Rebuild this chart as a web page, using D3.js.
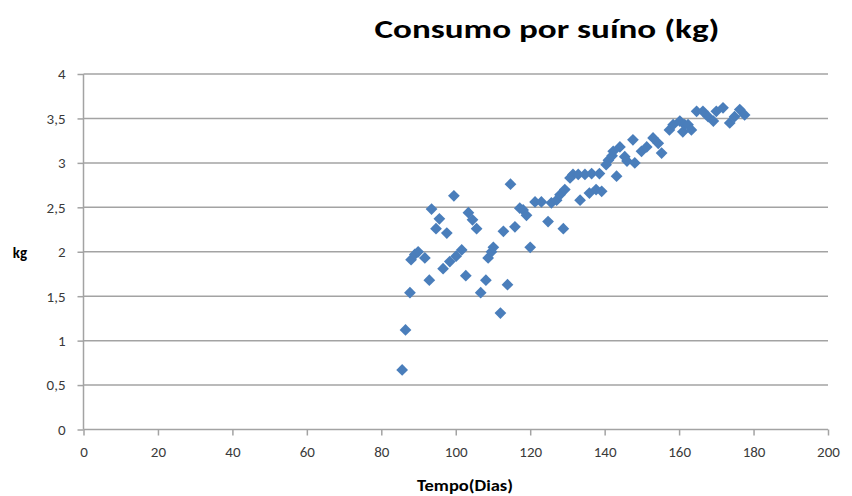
<!DOCTYPE html>
<html>
<head>
<meta charset="utf-8">
<script src="https://cdn.jsdelivr.net/npm/d3@7"></script>
<style>
  html, body { margin: 0; padding: 0; background: #fff; }
  svg { display: block; }
</style>
</head>
<body>
<svg id="chart" width="852" height="496"></svg>
<script>
// Daily feed intake per pig: day of trial and kg consumed
const dias = [
  85.6, 86.5, 87.7, 88.0, 89.0, 89.9, 91.7, 92.9, 93.5, 94.7,
  95.6, 96.6, 97.6, 98.4, 99.5, 100.1, 101.6, 102.7, 103.4, 104.5,
  105.6, 106.7, 108.1, 108.7, 109.6, 110.1, 112.0, 112.8, 113.9, 114.7,
  115.9, 117.2, 118.1, 119.0, 120.0, 121.3, 123.0, 124.8, 125.7, 127.1,
  128.0, 128.9, 129.3, 130.7, 131.5, 132.9, 133.4, 134.7, 135.9, 136.5,
  137.7, 138.6, 139.2, 140.4, 141.0, 142.0, 142.3, 143.2, 144.1, 145.4,
  146.0, 147.6, 148.1, 149.9, 151.3, 153.0, 154.4, 155.3, 157.4, 158.4,
  160.2, 161.0, 161.5, 162.4, 163.3, 164.7, 166.4, 167.8, 169.2, 170.0,
  171.8, 173.6, 174.9, 176.3, 177.6
];
const consumo = [
  0.67, 1.12, 1.54, 1.91, 1.97, 2.00, 1.93, 1.68, 2.48, 2.26,
  2.37, 1.81, 2.21, 1.89, 2.63, 1.95, 2.02, 1.73, 2.44, 2.36,
  2.26, 1.54, 1.68, 1.93, 2.00, 2.05, 1.31, 2.23, 1.63, 2.76,
  2.28, 2.49, 2.47, 2.41, 2.05, 2.56, 2.56, 2.34, 2.55, 2.58,
  2.64, 2.26, 2.70, 2.83, 2.87, 2.87, 2.58, 2.87, 2.66, 2.88,
  2.70, 2.88, 2.68, 2.98, 3.03, 3.08, 3.13, 2.85, 3.18, 3.07,
  3.02, 3.26, 3.00, 3.13, 3.18, 3.28, 3.22, 3.11, 3.37, 3.43,
  3.47, 3.35, 3.43, 3.43, 3.37, 3.58, 3.58, 3.52, 3.47, 3.58,
  3.62, 3.45, 3.52, 3.60, 3.54
];
const xTicks = [0, 20, 40, 60, 80, 100, 120, 140, 160, 180, 200];
const yTicks = [0, 0.5, 1, 1.5, 2, 2.5, 3, 3.5, 4];

const titulo = "Consumo por suíno (kg)";
const tituloX = "Tempo(Dias)";
const tituloY = "kg";

const svg = d3.select("#chart");
const plotLeft = 83.5, plotRight = 828, plotTop = 74, plotBottom = 429.5;

const x = d3.scaleLinear().domain([0, 200]).range([plotLeft, plotRight]);
const y = d3.scaleLinear().domain([0, 4]).range([plotBottom, plotTop]);

const fmt = d => String(d).replace(".", ",");
const gridColor = "#a3a3a3";
const labelColor = "#3a3a3a";
const font = "Carlito, 'Open Sans', 'Liberation Sans', sans-serif";

// horizontal gridlines
svg.append("g")
  .selectAll("line")
  .data(yTicks.filter(d => d > 0))
  .join("line")
  .attr("x1", plotLeft).attr("x2", plotRight)
  .attr("y1", d => y(d)).attr("y2", d => y(d))
  .attr("stroke", gridColor)
  .attr("stroke-width", 1.5);

// y axis
const yAxis = svg.append("g")
  .attr("transform", `translate(${plotLeft},0)`)
  .call(d3.axisLeft(y).tickValues(yTicks).tickFormat(fmt).tickSize(6).tickPadding(12));
yAxis.select(".domain").attr("stroke", gridColor).attr("stroke-width", 1.5).attr("d", `M0,${plotBottom}V${plotTop}`);
yAxis.selectAll(".tick line").attr("stroke", gridColor).attr("stroke-width", 1.5);
yAxis.selectAll(".tick text")
  .attr("fill", labelColor)
  .style("font-family", font)
  .style("font-size", "15px");

// x axis
const xAxis = svg.append("g")
  .attr("transform", `translate(0,${plotBottom})`)
  .call(d3.axisBottom(x).tickValues(xTicks).tickFormat(fmt).tickSize(6).tickPadding(11));
xAxis.select(".domain").attr("stroke", gridColor).attr("stroke-width", 1.5).attr("d", `M${plotLeft},0H${plotRight}`);
xAxis.selectAll(".tick line").attr("stroke", gridColor).attr("stroke-width", 1.5);
xAxis.selectAll(".tick text")
  .attr("fill", labelColor)
  .style("font-family", font)
  .style("font-size", "15px");

// scatter points as diamonds
const pontos = dias.map((d, i) => ({ dia: d, kg: consumo[i] }));
const diamond = d3.symbol().type(d3.symbolDiamond2).size(88);
svg.append("g")
  .selectAll("path")
  .data(pontos)
  .join("path")
  .attr("transform", d => `translate(${x(d.dia)},${y(d.kg)})`)
  .attr("d", diamond)
  .attr("fill", "#4a7ebb");

// title and axis titles
svg.append("text")
  .attr("x", 547).attr("y", 38)
  .attr("text-anchor", "middle")
  .attr("textLength", 345)
  .attr("lengthAdjust", "spacingAndGlyphs")
  .style("font-family", font)
  .style("font-weight", "bold")
  .style("font-size", "27px")
  .attr("fill", "#000")
  .text(titulo);

svg.append("text")
  .attr("x", 465).attr("y", 491)
  .attr("text-anchor", "middle")
  .attr("textLength", 96)
  .attr("lengthAdjust", "spacingAndGlyphs")
  .style("font-family", font)
  .style("font-weight", "bold")
  .style("font-size", "15px")
  .attr("fill", "#000")
  .text(tituloX);

svg.append("text")
  .attr("x", 20).attr("y", 258)
  .attr("text-anchor", "middle")
  .style("font-family", font)
  .style("font-weight", "bold")
  .style("font-size", "15px")
  .attr("fill", "#000")
  .text(tituloY);
</script>
</body>
</html>
